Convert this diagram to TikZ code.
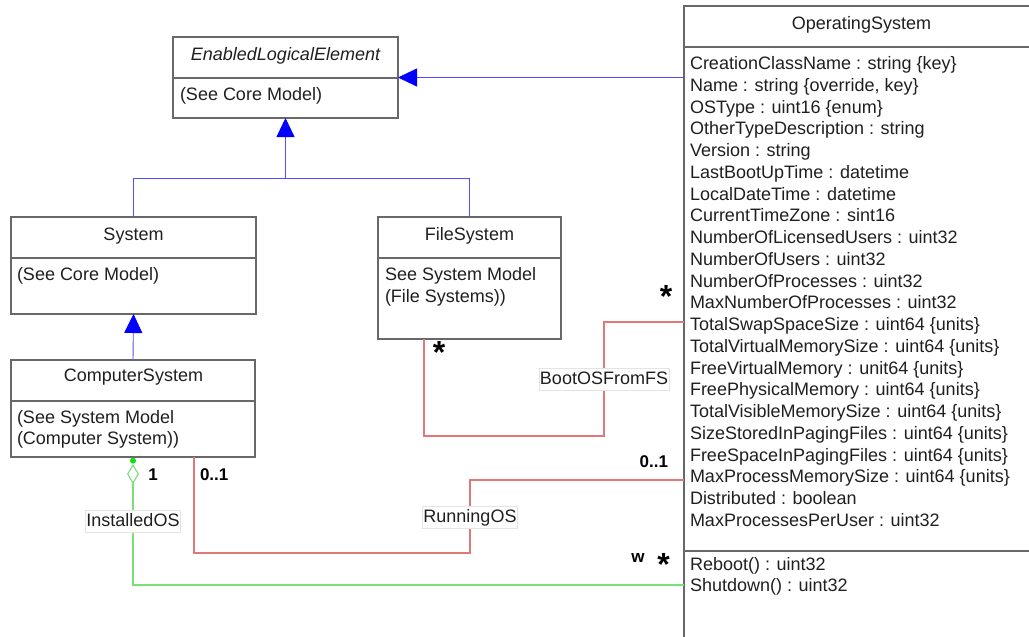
\documentclass[tikz,border=0pt]{standalone}
\usepackage{fontspec}
\setmainfont{Liberation Sans}
\usetikzlibrary{arrows.meta,calc,shapes.geometric}

\definecolor{boxline}{HTML}{686868}
\definecolor{inhblue}{HTML}{5050F0}
\definecolor{headblue}{HTML}{0000FF}
\definecolor{assocred}{HTML}{E07878}
\definecolor{aggrgreen}{HTML}{78E078}
\definecolor{dotgreen}{HTML}{10E010}
\definecolor{labelframe}{HTML}{E4E4E4}

\begin{document}
\begin{tikzpicture}[x=1pt,y=-1pt,
  every node/.style={inner sep=0pt, outer sep=0pt},
  txt/.style={font=\fontsize{18}{21.76}\selectfont, text=black!88},
  mult/.style={font=\fontsize{17}{20}\selectfont\bfseries, text=black},
  star/.style={font=\fontsize{32}{32}\selectfont\bfseries, text=black, anchor=base},
  classbox/.style={draw=boxline, line width=1.4pt, rectangle, anchor=north west},
  divider/.style={draw=boxline, line width=1.4pt},
  inh/.style={draw=inhblue, line width=0.9pt},
  inhtip/.style={inh, -{Triangle[length=19pt,width=18pt,color=headblue]}},
  assoc/.style={draw=assocred, line width=1.1pt},
  aggr/.style={draw=aggrgreen, line width=1.1pt},
  assoclabel/.style={txt, fill=white, draw=labelframe, line width=0.8pt,
    minimum height=22pt, text height=13pt, text depth=3pt, inner xsep=1pt}
]
\useasboundingbox (0,0) rectangle (1029,637);
\clip (0,0) rectangle (1029,637);

% ---------- class boxes ----------
\node[classbox, minimum width=225pt, minimum height=81pt] (ele) at (173,37) {};
\node[classbox, minimum width=245pt, minimum height=97pt] (sys) at (11,217) {};
\node[classbox, minimum width=183pt, minimum height=122pt] (fs) at (378,217) {};
\node[classbox, minimum width=244pt, minimum height=97pt] (cs) at (11,360) {};
\node[classbox, minimum width=380pt, minimum height=660pt] (os) at (684,6) {};

% compartment dividers
\draw[divider] (ele.west |- 0,78) -- (ele.east |- 0,78);
\draw[divider] (sys.west |- 0,258) -- (sys.east |- 0,258);
\draw[divider] (fs.west |- 0,258) -- (fs.east |- 0,258);
\draw[divider] (cs.west |- 0,401) -- (cs.east |- 0,401);
\draw[divider] (os.west |- 0,47) -- (os.east |- 0,47);
\draw[divider] (os.west |- 0,551) -- (os.east |- 0,551);

% ---------- class texts ----------
\node[txt, anchor=base] (eleName) at (285.5,60) {\itshape EnabledLogicalElement};
\node[txt, anchor=base west] (eleBody) at (180,100.5) {(See Core Model)};

\node[txt, anchor=base] (sysName) at (133.5,240) {System};
\node[txt, anchor=base west] (sysBody) at (17,280) {(See Core Model)};

\node[txt, anchor=base] (fsName) at (469.5,240) {FileSystem};
\node[txt, anchor=base west] (fsBodyA) at (385,280.7) {See System Model};
\node[txt, anchor=base west] (fsBodyB) at (385,302.4) {(File Systems))};

\node[txt, anchor=base] (csName) at (133.5,381.7) {ComputerSystem};
\node[txt, anchor=base west] (csBodyA) at (17,423.3) {(See System Model};
\node[txt, anchor=base west] (csBodyB) at (17,444.8) {(Computer System))};

\node[txt, anchor=base] (osName) at (861.5,29.3) {OperatingSystem};
\foreach \attr [count=\i from 0] in {
  CreationClassName : string \{key\},
  Name : string \{override{,} key\},
  OSType : uint16 \{enum\},
  OtherTypeDescription : string,
  Version : string,
  LastBootUpTime : datetime,
  LocalDateTime : datetime,
  CurrentTimeZone : sint16,
  NumberOfLicensedUsers : uint32,
  NumberOfUsers : uint32,
  NumberOfProcesses : uint32,
  MaxNumberOfProcesses : uint32,
  TotalSwapSpaceSize : uint64 \{units\},
  TotalVirtualMemorySize : uint64 \{units\},
  FreeVirtualMemory : unit64 \{units\},
  FreePhysicalMemory : uint64 \{units\},
  TotalVisibleMemorySize : uint64 \{units\},
  SizeStoredInPagingFiles : uint64 \{units\},
  FreeSpaceInPagingFiles : uint64 \{units\},
  MaxProcessMemorySize : uint64 \{units\},
  Distributed : boolean,
  MaxProcessesPerUser : uint32}
  \node[txt, anchor=base west] (osAttr\i) at (690,69.5+21.76*\i) {\attr};
\node[txt, anchor=base west] (osOpA) at (690,570) {Reboot() : uint32};
\node[txt, anchor=base west] (osOpB) at (690,591.7) {Shutdown() : uint32};

% ---------- inheritance ----------
\coordinate (join) at (ele.south |- 0,178);
\draw[inh] (sys.north) |- (join);
\draw[inh] (fs.north) |- (join);
\draw[inhtip] (join) -- (ele.south);
\draw[inhtip] (cs.north) -- (sys.south);
\draw[inhtip] (ele.east -| os.west) -- (ele.east);

% ---------- BootOSFromFS ----------
\coordinate (bootFoot) at ($(fs.south west)+(46,0)$);
\coordinate (bootBend) at (604,436);
\draw[assoc] (bootFoot) |- (bootBend) |- (os.west |- 0,322);
\node[assoclabel] (bootLabel) at (604,379.5) {BootOSFromFS};
\node[star] (bootStarFS) at (439,363.5) {*};
\node[star] (bootStarOS) at (666,307) {*};

% ---------- RunningOS ----------
\coordinate (runFoot) at ($(cs.south west)+(183,0)$);
\coordinate (runBend) at (470,553);
\draw[assoc] (runFoot) |- (runBend) |- (os.west |- 0,480);
\node[assoclabel] (runLabel) at (470,517) {RunningOS};
\node[mult, anchor=base west] (runMultCS) at (200,480) {0..1};
\node[mult, anchor=base east] (runMultOS) at (668,467.7) {0..1};

% ---------- InstalledOS ----------
\node[circle, fill=dotgreen, minimum size=6pt] (aggrDot) at (133,460.7) {};
\node[diamond, draw=aggrgreen, line width=1.1pt, fill=white,
      minimum width=10.6pt, minimum height=18pt] (aggrDiamond) at (133,474) {};
\draw[aggr] (aggrDiamond.south) |- (os.west |- 0,585);
\node[assoclabel] (instLabel) at (133,521) {InstalledOS};
\node[mult, anchor=base] (instMultCS) at (153,480) {1};
\node[mult, anchor=base] (instMultW) at (638,562.5) {w};
\node[star] (instStarOS) at (663.5,575.5) {*};
\end{tikzpicture}
\end{document}
